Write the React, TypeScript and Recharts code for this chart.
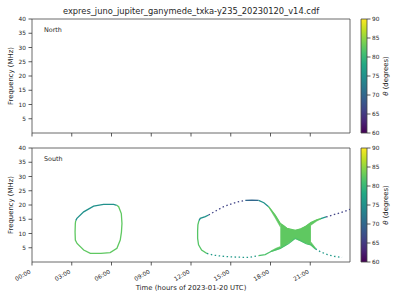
import React from 'react';
import { ComposedChart, Line, Area, XAxis, YAxis, ReferenceArea } from 'recharts';

// ---------- tick labels / scales ----------
const timeTicks = [0, 3, 6, 9, 12, 15, 18, 21];
const freqTicks = [5, 10, 15, 20, 25, 30, 35, 40];
const thetaTicks = [60, 65, 70, 75, 80, 85, 90];
const titleText = 'expres_juno_jupiter_ganymede_txka-y235_20230120_v14.cdf';

// ---------- South emission (t: hours UTC, f: MHz) ----------
const loop1Top = [
  { t: 3.3, f: 14.5 }, { t: 3.39, f: 15.3 }, { t: 3.9, f: 17.6 }, { t: 4.65, f: 19.6 },
  { t: 5.4, f: 20.2 }, { t: 6.16, f: 20.2 }, { t: 6.4, f: 19.9 },
];
const loop1Rest = [
  { t: 6.4, f: 19.9 }, { t: 6.54, f: 19.4 }, { t: 6.74, f: 17.0 }, { t: 6.79, f: 13.5 },
  { t: 6.75, f: 10.5 }, { t: 6.66, f: 7.7 }, { t: 6.41, f: 4.8 }, { t: 5.9, f: 3.3 },
  { t: 5.2, f: 3.0 }, { t: 4.4, f: 3.0 }, { t: 3.9, f: 4.2 }, { t: 3.4, f: 6.5 },
  { t: 3.27, f: 7.7 }, { t: 3.25, f: 10.5 }, { t: 3.27, f: 13.5 }, { t: 3.3, f: 14.5 },
];
const bigLeft = [
  { t: 13.2, f: 3.0 }, { t: 12.8, f: 4.2 }, { t: 12.57, f: 6.0 }, { t: 12.5, f: 8.3 },
  { t: 12.5, f: 11.0 }, { t: 12.52, f: 13.0 }, { t: 12.6, f: 14.5 },
];
const bigUpperLeft = [
  { t: 12.6, f: 14.5 }, { t: 12.7, f: 15.3 }, { t: 13.08, f: 15.9 }, { t: 13.33, f: 16.5 },
];
const bigUpperDotted = [
  { t: 13.33, f: 16.5 }, { t: 13.9, f: 18.0 }, { t: 14.46, f: 19.4 }, { t: 15.1, f: 20.5 },
  { t: 15.7, f: 21.3 }, { t: 16.1, f: 21.6 },
];
const bigTop = [{ t: 16.1, f: 21.6 }, { t: 16.6, f: 21.7 }, { t: 17.1, f: 21.6 }];
const bigDescent = [{ t: 17.1, f: 21.6 }, { t: 17.5, f: 20.8 }, { t: 17.86, f: 19.4 }];
const bigUpperGreen = [
  { t: 17.86, f: 19.4 }, { t: 18.36, f: 16.4 }, { t: 18.74, f: 13.5 }, { t: 19.24, f: 11.8 },
  { t: 19.87, f: 11.1 }, { t: 20.3, f: 11.6 }, { t: 20.7, f: 12.6 }, { t: 21.05, f: 13.8 },
  { t: 21.5, f: 14.8 }, { t: 21.8, f: 15.2 },
];
const bigUpperRight = [{ t: 21.8, f: 15.2 }, { t: 22.2, f: 15.8 }];
const bigUpperRightDotted = [
  { t: 22.2, f: 15.8 }, { t: 22.7, f: 16.5 }, { t: 23.2, f: 17.2 }, { t: 23.6, f: 17.8 }, { t: 24, f: 18.5 },
];
const bigLowerDotted = [
  { t: 13.2, f: 3.0 }, { t: 13.7, f: 2.4 }, { t: 14.6, f: 1.9 }, { t: 15.5, f: 1.7 },
  { t: 16.35, f: 1.6 }, { t: 17.1, f: 2.2 },
];
const bigLowerGreen = [
  { t: 17.1, f: 2.2 }, { t: 17.6, f: 2.6 }, { t: 18.0, f: 3.6 }, { t: 18.74, f: 4.8 },
  { t: 19.37, f: 6.5 }, { t: 19.87, f: 8.3 }, { t: 20.3, f: 7.4 }, { t: 20.7, f: 6.4 },
  { t: 21.05, f: 6.0 }, { t: 21.4, f: 4.6 },
];
const bigLowerRightDotted = [
  { t: 21.4, f: 4.6 }, { t: 21.8, f: 3.5 }, { t: 22.3, f: 2.6 }, { t: 22.8, f: 2.0 }, { t: 23.4, f: 1.6 },
];

// filled (dense) emission, r = [low, high] MHz
const fillUpperLeft = [
  { t: 17.86, r: [19.3, 19.4] }, { t: 18.36, r: [15.4, 16.4] }, { t: 18.74, r: [12.3, 13.5] },
];
const fillLowerLeft = [
  { t: 18.0, r: [3.6, 3.8] }, { t: 18.4, r: [4.2, 4.8] }, { t: 18.74, r: [4.8, 5.4] },
];
const fillBody = [
  { t: 18.74, r: [4.8, 13.5] }, { t: 19.0, r: [5.5, 12.8] }, { t: 19.24, r: [6.2, 11.8] },
  { t: 19.5, r: [7.2, 11.4] }, { t: 19.87, r: [8.3, 11.1] }, { t: 20.2, r: [7.6, 11.5] },
  { t: 20.5, r: [6.9, 12.1] }, { t: 20.8, r: [6.3, 13.0] }, { t: 21.05, r: [6.0, 13.8] },
];
const fillUpperRight = [
  { t: 21.05, r: [12.9, 13.8] }, { t: 21.5, r: [14.4, 14.8] }, { t: 21.8, r: [15.1, 15.2] },
];
const fillLowerRight = [{ t: 21.05, r: [6.0, 7.0] }, { t: 21.4, r: [4.6, 4.9] }];

// colour angle theta (degrees) per segment
const southSegments = [
  { pts: loop1Top, theta: 75, dashed: false },
  { pts: loop1Rest, theta: 82.5, dashed: false },
  { pts: bigLeft, theta: 82, dashed: false },
  { pts: bigUpperLeft, theta: 75, dashed: false },
  { pts: bigUpperDotted, theta: 66, dashed: true },
  { pts: bigTop, theta: 70, dashed: false },
  { pts: bigDescent, theta: 75, dashed: false },
  { pts: bigUpperGreen, theta: 82.5, dashed: false },
  { pts: bigUpperRight, theta: 76, dashed: false },
  { pts: bigUpperRightDotted, theta: 66, dashed: true },
  { pts: bigLowerDotted, theta: 76, dashed: true },
  { pts: bigLowerGreen, theta: 81.5, dashed: false },
  { pts: bigLowerRightDotted, theta: 76, dashed: true },
];
const southFills = [
  { pts: fillUpperLeft, theta: 82.5 },
  { pts: fillLowerLeft, theta: 82.5 },
  { pts: fillBody, theta: 82.5 },
  { pts: fillUpperRight, theta: 82.5 },
  { pts: fillLowerRight, theta: 82.5 },
];
const northSegments: typeof southSegments = [];
const northFills: typeof southFills = [];

// ---------- style ----------
const FONT = '"DejaVu Sans", sans-serif';
const TXT = '#262626';
const VIRIDIS = ['#440154', '#482475', '#414487', '#355f8d', '#2a788e', '#21918c', '#22a884', '#44bf70', '#7ad151', '#bddf26', '#fde725'];

function hexToRgb(h: string) {
  return [parseInt(h.slice(1, 3), 16), parseInt(h.slice(3, 5), 16), parseInt(h.slice(5, 7), 16)];
}
function viridis(theta: number) {
  const v = Math.max(0, Math.min(1, (theta - 60) / 30)) * 10;
  const i = Math.min(9, Math.floor(v));
  const f = v - i;
  const a = hexToRgb(VIRIDIS[i]);
  const b = hexToRgb(VIRIDIS[i + 1]);
  const c = a.map((x, k) => Math.round(x + (b[k] - x) * f));
  return `rgb(${c[0]},${c[1]},${c[2]})`;
}

const fmtTime = (h: number) => `${String(h).padStart(2, '0')}:00`;

const TimeTick = (props: any) => {
  const { x, y, payload } = props;
  return (
    <text transform={`translate(${x - 0.9},${y + 5.3}) rotate(-30)`} textAnchor="end" fontSize={5.8} fill={TXT} fontFamily={FONT}>
      {fmtTime(payload.value)}
    </text>
  );
};
const EmptyTick = () => <g />;

function Panel(props: {
  height: number; marginTop: number; xAxisHeight: number; showLabels: boolean;
  segments: typeof southSegments; fills: typeof southFills; hemisphere: string;
}) {
  const { height, marginTop, xAxisHeight, showLabels, segments, fills, hemisphere } = props;
  const plotTop = marginTop;
  const plotBottom = height - xAxisHeight;
  const midY = (plotTop + plotBottom) / 2;
  return (
    <ComposedChart width={400} height={height} margin={{ top: marginTop, right: 50, bottom: 0, left: 0 }} data={[]}>
      <XAxis
        type="number" dataKey="t" domain={[0, 24]} ticks={timeTicks} interval={0} allowDataOverflow
        height={xAxisHeight} axisLine={false} tickSize={3.5} tickMargin={2}
        tickLine={{ stroke: '#333', strokeWidth: 0.8 }}
        tick={showLabels ? <TimeTick /> : <EmptyTick />}
      />
      <YAxis
        type="number" domain={[0, 40]} ticks={freqTicks} interval={0} allowDataOverflow width={32}
        axisLine={false} tickSize={3.5} tickMargin={2.5}
        tickLine={{ stroke: '#333', strokeWidth: 0.8 }}
        tick={{ fontSize: 5.8, fill: TXT, fontFamily: FONT }}
      />
      {fills.map((s, i) => (
        <Area
          key={'a' + i} data={s.pts} dataKey="r" type="linear" stroke={viridis(s.theta)} strokeWidth={0.6}
          fill={viridis(s.theta)} fillOpacity={1} dot={false} activeDot={false} isAnimationActive={false}
        />
      ))}
      {segments.map((s, i) => (
        <Line
          key={'l' + i} data={s.pts} dataKey="f" type="linear" stroke={viridis(s.theta)} strokeWidth={1.3}
          strokeDasharray={s.dashed ? '1.5 2.5' : undefined} dot={false} activeDot={false} isAnimationActive={false}
        />
      ))}
      <ReferenceArea x1={0} x2={24} y1={0} y2={40} fill="none" stroke="#444" strokeWidth={0.8} ifOverflow="visible" />
      <text x={44} y={plotTop + 12.8} fontSize={6.4} fill={TXT} fontFamily={FONT}>{hemisphere}</text>
      <text transform={`translate(12.5,${midY}) rotate(-90)`} textAnchor="middle" fontSize={6.9} fill={TXT} fontFamily={FONT}>
        Frequency (MHz)
      </text>
      {showLabels && (
        <text x={191} y={plotBottom + 27.5} textAnchor="middle" fontSize={6.9} fill={TXT} fontFamily={FONT}>
          Time (hours of 2023-01-20 UTC)
        </text>
      )}
    </ComposedChart>
  );
}

function ColorBar(props: { height: number; marginTop: number; xAxisHeight: number; gid: string }) {
  const { height, marginTop, xAxisHeight, gid } = props;
  const midY = (marginTop + height - xAxisHeight) / 2;
  return (
    <ComposedChart width={45} height={height} margin={{ top: marginTop, right: 0, bottom: 0, left: 6 }} data={[]}>
      <defs>
        <linearGradient id={gid} x1="0" y1="1" x2="0" y2="0">
          {VIRIDIS.map((c, i) => (
            <stop key={i} offset={`${i * 10}%`} stopColor={c} />
          ))}
        </linearGradient>
      </defs>
      <XAxis
        type="number" dataKey="x" domain={[0, 1]} allowDataOverflow height={xAxisHeight}
        axisLine={false} tickLine={false} tick={<EmptyTick />}
      />
      <YAxis
        orientation="right" type="number" domain={[60, 90]} ticks={thetaTicks} interval={0} width={33}
        allowDataOverflow axisLine={false} tickSize={3.5} tickMargin={1.5}
        tickLine={{ stroke: '#333', strokeWidth: 0.8 }}
        tick={{ fontSize: 5.8, fill: TXT, fontFamily: FONT, textAnchor: 'start' }}
      />
      <ReferenceArea x1={0} x2={1} y1={60} y2={90} fill={`url(#${gid})`} fillOpacity={1} stroke="#444" strokeWidth={0.8} ifOverflow="visible" />
      <text transform={`translate(32.5,${midY}) rotate(-90)`} textAnchor="middle" fontSize={6.9} fill={TXT} fontFamily={FONT}>
        <tspan fontStyle="italic">θ</tspan> (degrees)
      </text>
    </ComposedChart>
  );
}

export default function App() {
  return (
    <div style={{ position: 'absolute', left: 0, top: 0, width: 400, height: 300, background: '#fff', fontFamily: FONT, overflow: 'hidden' }}>
      <div style={{ position: 'absolute', left: 0, top: 6, width: 382, textAlign: 'center', fontSize: 8.3, lineHeight: '10px', color: TXT, whiteSpace: 'nowrap' }}>
        {titleText}
      </div>
      <div style={{ position: 'absolute', left: 0, top: 0 }}>
        <Panel height={140} marginTop={19} xAxisHeight={7} showLabels={false} segments={northSegments} fills={northFills} hemisphere="North" />
      </div>
      <div style={{ position: 'absolute', left: 0, top: 140 }}>
        <Panel height={160} marginTop={8} xAxisHeight={38} showLabels={true} segments={southSegments} fills={southFills} hemisphere="South" />
      </div>
      <div style={{ position: 'absolute', left: 355, top: 0 }}>
        <ColorBar height={140} marginTop={19} xAxisHeight={7} gid="vir-top" />
      </div>
      <div style={{ position: 'absolute', left: 355, top: 140 }}>
        <ColorBar height={160} marginTop={8} xAxisHeight={38} gid="vir-bot" />
      </div>
    </div>
  );
}
